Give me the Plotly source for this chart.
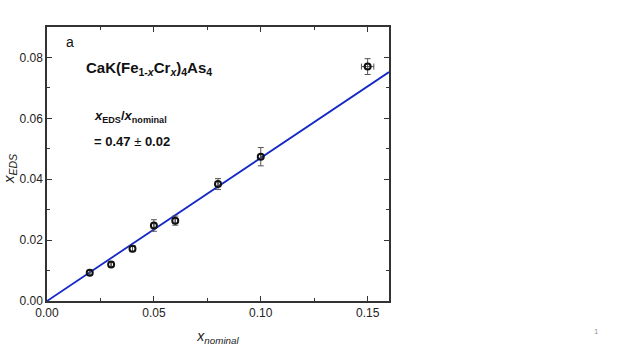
import plotly.graph_objects as go

x_nominal = [0.02, 0.03, 0.04, 0.05, 0.06, 0.08, 0.10, 0.15]
x_eds = [0.0093, 0.0120, 0.0172, 0.0248, 0.0264, 0.0384, 0.0474, 0.0770]
y_err = [0.0008, 0.0008, 0.0010, 0.0019, 0.0015, 0.0018, 0.0030, 0.0026]
x_err = [0.0, 0.0, 0.0, 0.0, 0.0, 0.0, 0.0, 0.0029]
slope = 0.47
fit_x = [0.0, 0.16]
fit_y = [slope * v for v in fit_x]

FONT = "Liberation Sans, Arial, sans-serif"

W, H = 623, 350
L, T, R, B = 47, 27, 234, 49
pw, ph = W - L - R, H - T - B

fig = go.Figure()
fig.add_trace(go.Scatter(x=fit_x, y=fit_y, mode="lines",
                         line=dict(color="#1428c8", width=1.8), showlegend=False))
fig.add_trace(go.Scatter(
    x=x_nominal, y=x_eds, mode="markers",
    marker=dict(symbol="circle-open", size=6, color="#111111", line=dict(width=2)),
    error_y=dict(type="data", array=y_err, color="#555555", thickness=1, width=3),
    error_x=dict(type="data", array=x_err, color="#555555", thickness=1, width=3),
    showlegend=False))

axis_common = dict(showgrid=False, zeroline=False, showline=True, linecolor="#333333",
                   linewidth=1.5, mirror="allticks", ticks="inside", ticklen=5,
                   automargin=False,
                   tickcolor="#333333", tickfont=dict(family=FONT, size=12, color="#222222"))

fig.update_xaxes(range=[0, 0.16], tickvals=[0, 0.05, 0.10, 0.15],
                 ticktext=["0.00", "0.05", "0.10", "0.15"],
                 minor=dict(tickvals=[0.025, 0.075, 0.125], ticks="inside", ticklen=3,
                            tickcolor="#333333"),
                 title=dict(text="<i>x</i><sub><i>nominal</i></sub>",
                            font=dict(family=FONT, size=14, color="#222222"), standoff=12),
                 **axis_common)
fig.update_yaxes(range=[0, 0.09], tickvals=[0, 0.02, 0.04, 0.06, 0.08],
                 ticktext=["0.00", "0.02", "0.04", "0.06", "0.08"],
                 minor=dict(tickvals=[0.01, 0.03, 0.05, 0.07], ticks="inside", ticklen=3,
                            tickcolor="#333333"),
                 **axis_common)

# y-axis title as an annotation so it sits clear of the tick labels
fig.add_annotation(xref="paper", yref="paper", x=(10 - L) / pw, y=(H - B - 169) / ph,
                   text="<i>x</i><sub><i>EDS</i></sub>", textangle=-90, showarrow=False,
                   xanchor="center", yanchor="middle",
                   font=dict(family=FONT, size=15, color="#222222"))

fig.add_annotation(x=0.008, y=0.0850, xref="x", yref="y", text="a", showarrow=False,
                   xanchor="left", font=dict(family=FONT, size=14, color="#111111"))
fig.add_annotation(x=0.0175, y=0.0765, xref="x", yref="y",
                   text="<b>CaK(Fe<sub>1-<i>x</i></sub>Cr<sub><i>x</i></sub>)<sub>4</sub>As<sub>4</sub></b>",
                   showarrow=False, xanchor="left", font=dict(family=FONT, size=15, color="#111111"))
fig.add_annotation(x=0.021, y=0.0605, xref="x", yref="y",
                   text="<b><i>x</i><sub>EDS</sub>/<i>x</i><sub>nominal</sub></b>",
                   showarrow=False, xanchor="left", font=dict(family=FONT, size=13, color="#111111"))
fig.add_annotation(x=0.021, y=0.0525, xref="x", yref="y",
                   text="<b>= 0.47 </b>±<b> 0.02</b>",
                   showarrow=False, xanchor="left", font=dict(family=FONT, size=13, color="#111111"))
fig.add_annotation(xref="paper", yref="paper",
                   x=(601 - L) / pw, y=(H - B - 338) / ph,
                   text="1", showarrow=False,
                   font=dict(family=FONT, size=8, color="#999999"))

fig.update_layout(width=W, height=H, margin=dict(l=L, r=R, t=T, b=B),
                  plot_bgcolor="white", paper_bgcolor="white")

fig.write_html("out.html", config={"displayModeBar": False},
               post_script="document.body.style.margin='0';document.body.style.overflow='hidden';")
